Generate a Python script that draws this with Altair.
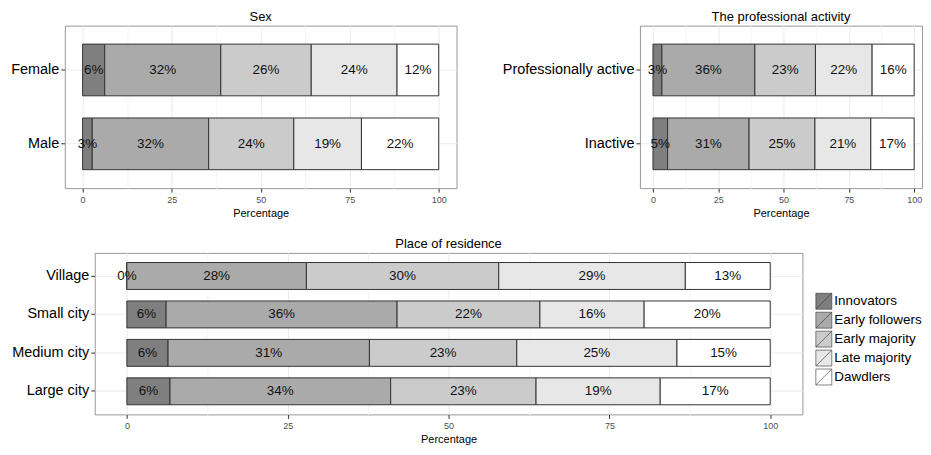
import altair as alt
import pandas as pd

FONT = "Liberation Sans"

stages = ["Innovators", "Early followers", "Early majority", "Late majority", "Dawdlers"]
stage_colors = ["#7F7F7F", "#AAAAAA", "#CBCBCB", "#E7E7E7", "#FFFFFF"]

sex_groups = ["Female", "Male"]
sex_values = [[6.2, 32.6, 25.4, 24.1, 11.7],
              [2.7, 32.7, 23.9, 19.0, 21.7]]
sex_labels = [[6, 32, 26, 24, 12],
              [3, 32, 24, 19, 22]]

prof_groups = ["Professionally active", "Inactive"]
prof_values = [[3.4, 35.6, 23.2, 21.7, 16.1],
               [5.6, 31.2, 25.2, 21.4, 16.6]]
prof_labels = [[3, 36, 23, 22, 16],
               [5, 31, 25, 21, 17]]

res_groups = ["Village", "Small city", "Medium city", "Large city"]
res_values = [[0.0, 27.9, 29.9, 29.0, 13.2],
              [6.1, 35.9, 22.2, 16.2, 19.6],
              [6.4, 31.3, 22.9, 24.9, 14.5],
              [6.7, 34.3, 22.6, 19.3, 17.1]]
res_labels = [[0, 28, 30, 29, 13],
              [6, 36, 22, 16, 20],
              [6, 31, 23, 25, 15],
              [6, 34, 23, 19, 17]]

major_ticks = [0, 25, 50, 75, 100]
minor_ticks = [12.5, 37.5, 62.5, 87.5]


def table(groups, values, labels):
    rows = []
    for g, vals, labs in zip(groups, values, labels):
        start = 0.0
        for i, (s, v, l) in enumerate(zip(stages, vals, labs)):
            rows.append(dict(group=g, stage=s, order=i, start=start, end=start + v,
                             mid=start + v / 2, label=f"{l}%"))
            start += v
    return pd.DataFrame(rows)


def panel(groups, values, labels, title, width, height, xmax=105, legend=None):
    df = table(groups, values, labels)
    xscale = alt.Scale(domain=[-5, xmax], nice=False, zero=False)
    yscale = alt.Scale(domain=groups, paddingInner=0.3, paddingOuter=0.25)
    yaxis = alt.Axis(title=None, labelFontSize=14.5, labelColor="#000000", labelPadding=2,
                     tickSize=4, tickColor="#333333", domain=False, grid=True,
                     gridColor="#EBEBEB")
    xaxis = alt.Axis(values=major_ticks, title="Percentage", orient="bottom",
                     labelFontSize=9, labelColor="#4D4D4D", labelPadding=3,
                     tickSize=4, tickColor="#333333", domain=False, grid=True,
                     gridColor="#EBEBEB", titleFontSize=11, titleFontWeight="normal",
                     titleColor="#000000", titlePadding=3)
    minor_axis = alt.Axis(values=minor_ticks, title=None, orient="top", labels=False,
                          ticks=False, domain=False, grid=True, gridColor="#F4F4F4")
    fill_kwargs = dict(scale=alt.Scale(domain=stages, range=stage_colors))
    if legend is None:
        fill = alt.Fill("stage:N", legend=None, **fill_kwargs)
    else:
        fill = alt.Fill("stage:N", legend=legend, **fill_kwargs)
    bars = alt.Chart(df).mark_bar(stroke="#333333", strokeWidth=1).encode(
        x=alt.X("start:Q", scale=xscale, axis=xaxis),
        x2="end:Q",
        y=alt.Y("group:N", scale=yscale, axis=yaxis, sort=groups),
        fill=fill,
    )
    text = alt.Chart(df).mark_text(fontSize=13.5, font=FONT, color="#111111").encode(
        x=alt.X("mid:Q", scale=xscale, axis=minor_axis),
        y=alt.Y("group:N", scale=yscale, axis=yaxis, sort=groups),
        text="label:N",
    )
    return alt.layer(bars, text).resolve_axis(x="independent").properties(
        width=width, height=height,
        title=alt.TitleParams(title, fontSize=13, fontWeight="normal", color="#000000",
                              anchor="middle", offset=2, font=FONT),
    )


# legend position is relative to the lower row (which starts at the upper-left panel)
legend = alt.Legend(title=None, orient="none", legendX=753, legendY=40,
                    symbolType="M-1,-1H1V1H-1Z M-1,1L1,-1", symbolSize=256,
                    symbolStrokeColor="#333333", symbolStrokeWidth=0.6, symbolOpacity=1,
                    labelFontSize=13.5, labelFont=FONT, labelColor="#000000",
                    labelOffset=2, rowPadding=0, padding=0)

sex = panel(sex_groups, sex_values, sex_labels, "Sex", 393, 163)
prof = panel(prof_groups, prof_values, prof_labels, "The professional activity", 283, 163,
             xmax=103)
res = panel(res_groups, res_values, res_labels, "Place of residence", 710, 162,
            legend=legend)

# invisible spacer that shifts the lower panel to the right of the upper-left one
spacer = alt.Chart(pd.DataFrame({"v": [0]})).mark_point(opacity=0).encode(
    x=alt.X("v:Q", axis=None), y=alt.Y("v:Q", axis=None)
).properties(width=1, height=162, view=alt.ViewBackground(stroke="transparent"))

top = alt.hconcat(sex, prof, spacing=44)
bottom = alt.hconcat(spacer, res, spacing=29, bounds="flush")
chart = alt.vconcat(top, bottom, spacing=18).resolve_legend(
    fill="independent"
).configure(
    font=FONT,
    padding={"left": 2, "top": 1, "right": 0, "bottom": 0},
).configure_view(stroke="#999999", strokeWidth=1)

chart.save("out.html", embed_options={"renderer": "svg", "actions": False})
